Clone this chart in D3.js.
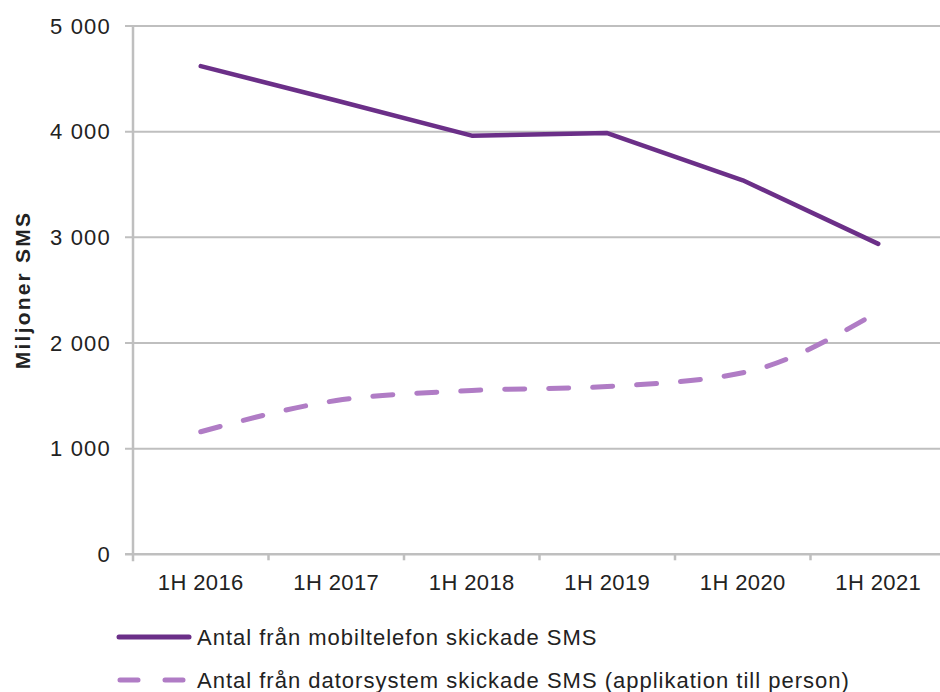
<!DOCTYPE html>
<html><head><meta charset="utf-8">
<script src="https://cdn.jsdelivr.net/npm/d3@7"></script>
<style>
body{margin:0;background:#fff;}
text{font-family:"Liberation Sans",Arial,sans-serif;fill:#222;}
</style></head>
<body><svg id="c" width="940" height="692"></svg>
<script>
const categories = ["1H 2016","1H 2017","1H 2018","1H 2019","1H 2020","1H 2021"];
const mobileValues = [4620, 4295, 3962, 3987, 3540, 2938];
const computerValues = [1160, 1455, 1550, 1588, 1718, 2295];
const yTicks = [0,1000,2000,3000,4000,5000];
const seriesNames = ["Antal från mobiltelefon skickade SMS","Antal från datorsystem skickade SMS (applikation till person)"];
const yTitle = "Miljoner SMS";

(function(){
const svg = d3.select("#c");
const pL = 133, pR = 946, pT = 26, pB = 554.3;
const x = d3.scaleBand().domain(categories).range([pL, pR]);
const y = d3.scaleLinear().domain([0,5000]).range([pB, pT]);
const fmt = v => v === 0 ? "0" : d3.format(",")(v).replace(/,/g, "\u00a0");
const grid = "#bfbfbf";

svg.append("g").selectAll("line").data(yTicks.filter(d=>d>0)).join("line")
  .attr("x1", pL-8).attr("x2", 940).attr("y1", d=>y(d)).attr("y2", d=>y(d))
  .attr("stroke", grid).attr("stroke-width", 2);
svg.append("g").selectAll("text").data(yTicks).join("text")
  .attr("x", 111).attr("y", d=>y(d)).attr("dy","0.35em").attr("text-anchor","end")
  .attr("font-size", 22).attr("letter-spacing", 1.2).text(fmt);
svg.append("line").attr("x1", pL-8).attr("x2", 940).attr("y1", y(0)).attr("y2", y(0))
  .attr("stroke", grid).attr("stroke-width", 2.5);
svg.append("line").attr("x1", pL).attr("x2", pL).attr("y1", pT).attr("y2", y(0)+7)
  .attr("stroke", grid).attr("stroke-width", 2.5);
svg.append("g").selectAll("line").data(categories.slice(1)).join("line")
  .attr("x1", d=>x(d)).attr("x2", d=>x(d)).attr("y1", y(0)).attr("y2", y(0)+6)
  .attr("stroke", grid).attr("stroke-width", 2.5);
svg.append("g").selectAll("text").data(categories).join("text")
  .attr("x", d=>x(d)+x.bandwidth()/2).attr("y", 590).attr("text-anchor","middle")
  .attr("font-size", 22).attr("letter-spacing", 0.4).text(d=>d);
svg.append("text").attr("transform","translate(30,290) rotate(-90)")
  .attr("text-anchor","middle").attr("font-size", 21).attr("font-weight","bold")
  .attr("letter-spacing", 2.2).text(yTitle);

const line = d3.line().x((d,i)=>x(categories[i])+x.bandwidth()/2).y(d=>y(d));
svg.append("path").datum(mobileValues).attr("d", line).attr("fill","none")
  .attr("stroke","#6b2f88").attr("stroke-width",4.5).attr("stroke-linecap","round").attr("stroke-linejoin","round");
svg.append("path").datum(computerValues).attr("d", line.curve(d3.curveMonotoneX)).attr("fill","none")
  .attr("stroke","#b07cc5").attr("stroke-width",5).attr("stroke-linecap","round")
  .attr("stroke-dasharray","20,24");

const lg = svg.append("g");
lg.append("line").attr("x1",119).attr("x2",189).attr("y1",637).attr("y2",637)
  .attr("stroke","#6b2f88").attr("stroke-width",5).attr("stroke-linecap","round");
lg.append("line").attr("x1",120).attr("x2",188).attr("y1",680).attr("y2",680)
  .attr("stroke","#b07cc5").attr("stroke-width",5).attr("stroke-linecap","round").attr("stroke-dasharray","18,27");
lg.append("text").attr("x",197).attr("y",637).attr("dy","0.35em").attr("font-size",22).attr("letter-spacing",1).text(seriesNames[0]);
lg.append("text").attr("x",197).attr("y",680).attr("dy","0.35em").attr("font-size",22).attr("letter-spacing",1).text(seriesNames[1]);
})();
</script></body></html>
